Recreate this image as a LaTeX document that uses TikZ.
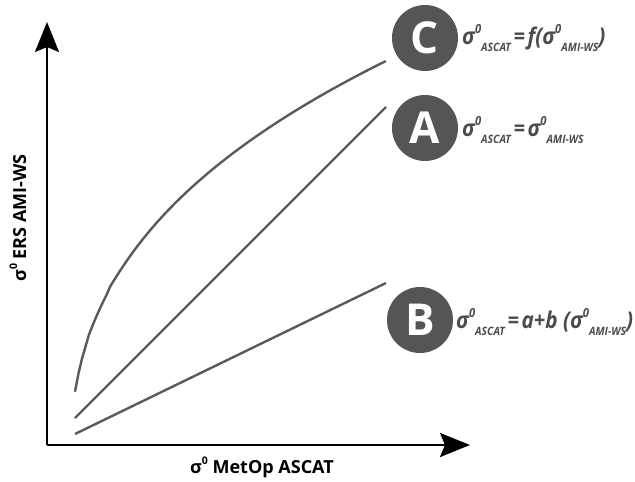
\documentclass[tikz,border=0pt]{standalone}
\usepackage{fontspec}
\setmainfont{Open Sans}
\newfontfamily\fmlfont[FakeStretch=0.9]{Open Sans}
\usetikzlibrary{arrows.meta}
\definecolor{circ}{HTML}{555555}
\definecolor{curv}{HTML}{5A5A5A}
\newcommand{\hsup}[1]{\raisebox{0.5em}{\fontsize{12.5}{12.5}\selectfont #1}}
\newcommand{\hsub}[1]{\raisebox{-0.3em}{\fontsize{11.5}{11.5}\selectfont #1}}
\newcommand{\asup}[1]{\raisebox{0.5em}{\fontsize{10.5}{10.5}\selectfont #1}}
\newcommand{\eqsign}{\hspace{0.12em}=\hspace{0.12em}}
\tikzset{
  axis/.style={line width=2.4pt, -{Stealth[length=30pt,width=24pt,inset=5pt]}},
  crv/.style={line width=2.4pt, draw=curv},
  badge/.style={circle, fill=circ, minimum size=66pt, inner sep=0pt, text=white, font=\fontsize{44}{44}\selectfont\bfseries},
  formula/.style={anchor=west, inner sep=0pt, text=circ!90!black, font=\fmlfont\fontsize{23}{23}\selectfont\bfseries\itshape},
  axlabel/.style={inner sep=0pt, font=\fontsize{18}{18}\selectfont\bfseries}
}
\begin{document}
\begin{tikzpicture}[x=1pt,y=-1pt]
\useasboundingbox (0,0) rectangle (635,482);
\coordinate (O) at (47,445);
\coordinate (Ytip) at (47,22);
\coordinate (Xtip) at (470,445);
\draw[axis] (O) -- (Ytip);
\draw[axis] (O) -- (Xtip);
\node[axlabel, rotate=90] (ylab) at (18,218) {σ\asup{0} ERS AMI-WS};
\node[axlabel] (xlab) at (262,467) {σ\asup{0} MetOp ASCAT};
\coordinate (c0) at (75,392);
\coordinate (c1) at (386,61);
\coordinate (a0) at (75,418);
\coordinate (a1) at (386,107);
\coordinate (b0) at (75,434);
\coordinate (b1) at (386,283);
\draw[crv] plot[domain=0:1, samples=90, variable=\u] ({75+311*\u}, {392-331*(((\u+0.02)^0.36)-0.2446)/0.7626});
\draw[crv] (a0) -- (a1);
\draw[crv] (b0) -- (b1);
\node[badge] (C) at (425,38) {C};
\node[badge] (A) at (425,128) {A};
\node[badge] (B) at (420,320) {B};
\node[formula] (fC) at (462,38) {σ\hsup{0}\hsub{ASCAT}\eqsign f(σ\hsup{0}\hsub{AMI-WS})};
\node[formula] (fA) at (462,130) {σ\hsup{0}\hsub{ASCAT}\eqsign σ\hsup{0}\hsub{AMI-WS}};
\node[formula] (fB) at (456,322) {σ\hsup{0}\hsub{ASCAT}\eqsign a+b (σ\hsup{0}\hsub{AMI-WS})};
\end{tikzpicture}
\end{document}
